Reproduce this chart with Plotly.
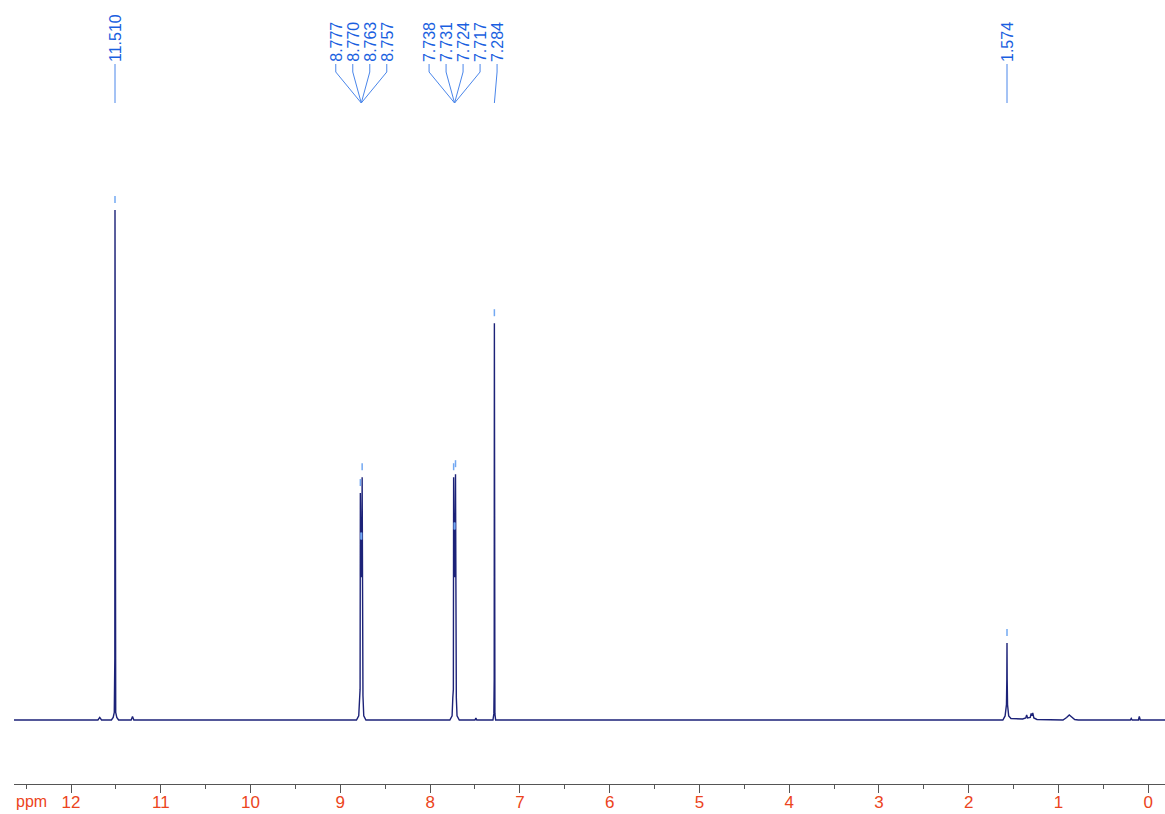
import plotly.graph_objects as go

# ---------------- data ----------------
spec_ppm = [12.635, 11.70, 11.68, 11.66, 11.55, 11.53, 11.518, 11.512, 11.510, 11.508, 11.502, 11.49, 11.47,
            11.33, 11.315, 11.30,
            8.82, 8.795, 8.786, 8.780, 8.777, 8.7735, 8.770, 8.7665, 8.763, 8.760, 8.757, 8.754, 8.748, 8.739, 8.715,
            7.78, 7.755, 7.747, 7.741, 7.738, 7.7345, 7.731, 7.7275, 7.724, 7.7205, 7.717, 7.714, 7.708, 7.70, 7.675,
            7.50, 7.49, 7.48,
            7.30, 7.29, 7.286, 7.284, 7.282, 7.278, 7.27,
            1.62, 1.595, 1.580, 1.576, 1.574, 1.572, 1.568, 1.555, 1.53,
            1.40, 1.365, 1.355, 1.345, 1.315, 1.305, 1.297, 1.287, 1.275, 1.24,
            0.95, 0.91, 0.88, 0.86, 0.82, 0.78,
            0.20, 0.19, 0.18, 0.11, 0.10, 0.09, -0.186]
spec_int = [0.0, 0.0, 0.5, 0.0, 0.0, 0.5, 1.5, 12.0, 100.0, 12.0, 1.5, 0.5, 0.0,
            0.0, 0.7, 0.0,
            0.0, 0.8, 4.8, 6.0, 44.5, 28.0, 34.0, 28.0, 34.0, 28.0, 47.6, 6.0, 4.8, 0.8, 0.0,
            0.0, 0.8, 4.4, 6.0, 47.6, 28.0, 36.0, 28.0, 36.0, 28.0, 48.2, 6.0, 4.4, 0.8, 0.0,
            0.0, 0.4, 0.0,
            0.0, 1.2, 8.0, 77.8, 8.0, 1.2, 0.0,
            0.0, 0.8, 3.0, 8.0, 15.1, 8.0, 3.0, 0.8, 0.3,
            0.2, 0.4, 1.0, 0.4, 0.5, 1.3, 0.8, 1.4, 0.4, 0.1,
            0.0, 0.5, 1.0, 0.7, 0.1, 0.0,
            0.0, 0.3, 0.0, 0.0, 0.7, 0.0, 0.0]

peak_ppm = [11.510, 8.777, 8.770, 8.763, 8.757, 7.738, 7.731, 7.724, 7.717, 7.284, 1.574]
peak_height = [100.0, 44.5, 34.0, 34.0, 47.6, 47.6, 36.0, 36.0, 48.2, 77.8, 15.1]
peak_label = ["11.510", "8.777", "8.770", "8.763", "8.757", "7.738", "7.731", "7.724", "7.717", "7.284", "1.574"]
peak_group = [0, 1, 1, 1, 1, 2, 2, 2, 2, 3, 4]

tick_vals = [12, 11, 10, 9, 8, 7, 6, 5, 4, 3, 2, 1, 0]
tick_text = ["12", "11", "10", "9", "8", "7", "6", "5", "4", "3", "2", "1", "0"]
minor_vals = [12.5, 11.5, 10.5, 9.5, 8.5, 7.5, 6.5, 5.5, 4.5, 3.5, 2.5, 1.5, 0.5]

# ---------------- layout geometry ----------------
W, H = 1165, 814
ML, MR, MT, MB = 14, 0, 0, 30
X_LEFT, X_RIGHT = 12.635, -0.186
PX_PER_PPM = (W - ML - MR) / (X_LEFT - X_RIGHT)
BASE_PX = 720.0
PX_PER_UNIT = 5.1
Y_BOTTOM = -((H - MB) - BASE_PX) / PX_PER_UNIT
Y_TOP = BASE_PX / PX_PER_UNIT


def ydat(px):
    return (BASE_PX - px) / PX_PER_UNIT


FONT = "Liberation Sans, Arial, Helvetica, sans-serif"
LABEL_COLOR = "#1a5fe0"
LEADER_COLOR = "#4a86ea"
MARK_COLOR = "#72a8f2"
SPEC_COLOR = "#1c2278"
AXIS_TEXT = "#ec4420"

# label positions: centered on group, spaced, then pushed to avoid overlap
spacing = 17.0 / PX_PER_PPM
groups = []
for g in sorted(set(peak_group)):
    idx = [i for i, gg in enumerate(peak_group) if gg == g]
    groups.append(idx)

label_x = [0.0] * len(peak_ppm)
anchor_x = [0.0] * len(peak_ppm)
prev = None
for idx in groups:
    c = sum(peak_ppm[i] for i in idx) / len(idx)
    n = len(idx)
    for k, i in enumerate(idx):
        lx = c + ((n - 1) / 2 - k) * spacing
        if prev is not None and lx > prev - spacing:
            lx = prev - spacing
        label_x[i] = lx
        anchor_x[i] = c
        prev = lx

fig = go.Figure()

# leader lines
lx_all, ly_all = [], []
for i in range(len(peak_ppm)):
    lx_all += [label_x[i], label_x[i], anchor_x[i], None]
    ly_all += [ydat(64), ydat(72), ydat(103), None]
fig.add_trace(go.Scatter(x=lx_all, y=ly_all, mode="lines",
                         line=dict(color=LEADER_COLOR, width=1), hoverinfo="skip", showlegend=False))

# spectrum
fig.add_trace(go.Scatter(x=spec_ppm, y=spec_int, mode="lines",
                         line=dict(color=SPEC_COLOR, width=1.4), hoverinfo="skip", showlegend=False))

# peak markers
mx, my = [], []
for p, h in zip(peak_ppm, peak_height):
    mx += [p, p, None]
    my += [h + 7 / PX_PER_UNIT, h + 14 / PX_PER_UNIT, None]
fig.add_trace(go.Scatter(x=mx, y=my, mode="lines",
                         line=dict(color=MARK_COLOR, width=1.5), hoverinfo="skip", showlegend=False))

# peak labels
for i, t in enumerate(peak_label):
    fig.add_annotation(x=label_x[i], y=ydat(64), xref="x", yref="y", text=t, textangle=-90,
                       showarrow=False, xanchor="center", yanchor="bottom",
                       font=dict(family=FONT, size=16, color=LABEL_COLOR))

# ppm label
fig.add_annotation(x=0, y=-17 / (H - MB - MT), xref="paper", yref="paper", text="ppm",
                   showarrow=False, xanchor="left", yanchor="middle",
                   font=dict(family=FONT, size=16, color=AXIS_TEXT))

fig.update_layout(
    width=W, height=H,
    margin=dict(l=ML, r=MR, t=MT, b=MB, pad=0),
    paper_bgcolor="white", plot_bgcolor="white",
    xaxis=dict(range=[X_LEFT, X_RIGHT], showgrid=False, zeroline=False,
               showline=True, linecolor="#555555", linewidth=1,
               ticks="outside", ticklen=8, tickcolor="#555555", tickwidth=1,
               tickvals=tick_vals, ticktext=tick_text, ticklabelstandoff=-5,
               tickfont=dict(family=FONT, size=17, color=AXIS_TEXT),
               minor=dict(tickvals=minor_vals, ticks="outside", ticklen=4, tickcolor="#555555", tickwidth=1)),
    yaxis=dict(range=[Y_BOTTOM, Y_TOP], visible=False, showgrid=False, zeroline=False),
    showlegend=False,
)

fig.write_html("out.html", config={"displayModeBar": False},
               post_script="document.body.style.margin='0';document.body.style.overflow='hidden';")
